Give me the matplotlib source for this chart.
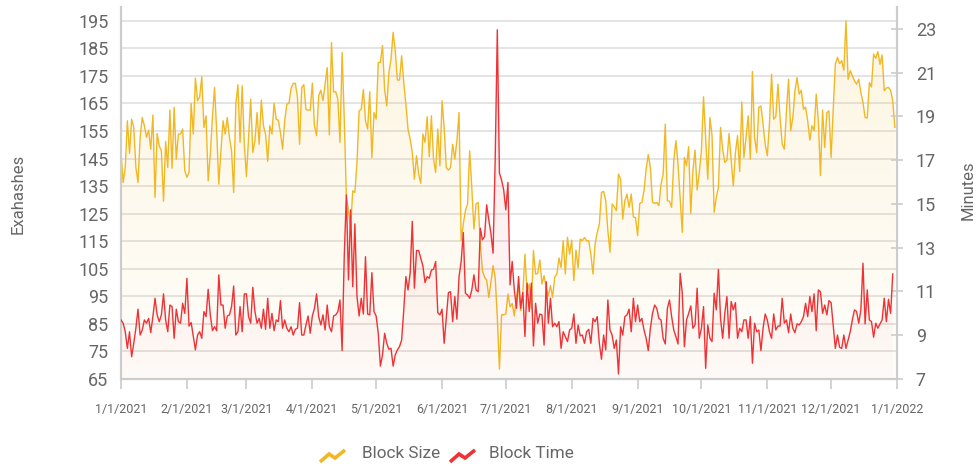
import numpy as np
import pandas as pd
import matplotlib
matplotlib.use("Agg")
import matplotlib.pyplot as plt
import matplotlib.dates as mdates
from matplotlib.colors import to_rgb
from matplotlib.patches import PathPatch
from matplotlib.lines import Line2D

plt.rcParams['font.family'] = ['Roboto', 'DejaVu Sans']

# daily hash rate (Exahashes), 1/1/2021 .. 12/31/2021
block_size = [
    # Jan 1 - Mar 16
    147.2, 136.3, 141.8, 158.7, 146.9, 159.3, 156.3, 141.8, 136.3, 152.7,
    159.9, 156.9, 152.7, 155.3, 148.4, 160.8, 130.9, 154.1, 149.6, 147.8,
    129.5, 151.2, 141.8, 162.6, 141.5, 163.6, 144.8, 153.9, 153.9, 155.7,
    140.6, 138.2, 140.0, 165.0, 153.9, 174.2, 166.0, 167.4, 174.7, 156.3,
    160.5, 136.9, 146.6, 159.9, 170.8, 155.1, 135.7, 147.8, 158.7, 153.9,
    159.9, 152.7, 147.8, 132.7, 164.8, 171.8, 150.9, 171.4, 150.2, 138.5,
    152.7, 166.6, 147.2, 151.5, 161.7, 150.2, 166.2, 156.9, 153.9, 144.0,
    156.9, 153.9, 165.1, 159.3, 158.9,
    # Mar 17 - May 30
    154.5, 148.4, 158.7, 164.8, 165.0, 170.6, 172.3, 172.3, 167.2, 150.2,
    170.8, 171.8, 162.8, 162.6, 162.6, 172.4, 156.9, 153.3, 167.9, 169.8,
    166.0, 172.0, 178.0, 153.6, 187.1, 169.2, 169.2, 166.6, 150.9, 183.5,
    159.9, 131.5, 126.1, 120.0, 133.3, 132.7, 143.6, 162.3, 162.9, 170.1,
    158.7, 155.7, 169.2, 145.4, 161.7, 159.3, 179.9, 179.9, 186.0, 170.1,
    164.1, 176.2, 181.1, 190.8, 184.1, 173.5, 173.5, 182.3, 172.6, 164.8,
    155.7, 152.1, 147.2, 137.5, 146.0, 139.4, 136.0, 153.9, 150.9, 160.2,
    145.7, 160.5, 144.8, 140.0, 155.7,
    # May 31 - Aug 13
    142.4, 166.0, 156.3, 141.8, 140.8, 141.8, 150.2, 144.8, 151.5, 161.7,
    115.2, 121.2, 126.1, 128.5, 147.8, 134.5, 119.4, 128.5, 129.1, 114.0,
    104.3, 101.9, 100.9, 94.6, 100.1, 106.1, 101.9, 87.4, 68.6, 88.3,
    88.3, 88.6, 95.8, 91.2, 92.4, 87.9, 94.6, 98.3, 89.8, 96.1,
    110.3, 96.5, 99.5, 90.4, 111.6, 103.1, 103.3, 108.2, 99.5, 102.5,
    98.0, 95.2, 98.9, 94.6, 101.9, 103.1, 108.9, 105.5, 115.2, 103.1,
    116.4, 110.3, 115.4, 100.7, 111.8, 105.3, 115.8, 115.2, 116.4, 115.2,
    115.2, 110.3, 103.1, 114.0, 118.2,
    # Aug 14 - Oct 27
    121.2, 132.7, 133.1, 129.7, 118.8, 111.0, 128.5, 127.5, 126.1, 139.4,
    137.5, 123.0, 129.7, 132.1, 127.3, 132.1, 123.8, 123.6, 117.0, 128.7,
    129.1, 133.3, 141.2, 146.4, 141.8, 129.1, 128.7, 129.1, 127.9, 135.7,
    139.4, 157.5, 129.7, 129.5, 127.3, 144.3, 151.5, 143.0, 130.9, 118.2,
    145.4, 142.4, 149.3, 125.1, 140.6, 148.1, 133.6, 139.9, 147.8, 167.4,
    152.7, 137.5, 159.9, 153.3, 125.5, 130.9, 134.5, 156.3, 148.4, 143.6,
    144.4, 154.1, 144.8, 135.1, 147.2, 153.3, 140.3, 165.5, 145.4, 152.7,
    160.5, 144.8, 176.6, 152.7, 147.2,
    # Oct 28 - Dec 31
    163.6, 164.1, 157.5, 150.2, 146.0, 157.5, 175.6, 159.3, 160.2, 172.0,
    159.9, 150.2, 148.4, 162.3, 173.8, 155.1, 159.9, 169.6, 174.4, 168.4,
    169.8, 162.9, 163.7, 158.7, 151.7, 156.9, 155.1, 168.4, 158.7, 138.8,
    162.6, 149.0, 161.7, 162.3, 145.4, 162.9, 179.3, 181.7, 179.5, 180.5,
    177.1, 195.0, 173.8, 176.9, 175.0, 173.2, 172.0, 173.8, 169.0, 165.4,
    159.9, 159.7, 172.6, 171.0, 182.9, 181.4, 183.8, 179.2, 182.6, 169.6,
    170.6, 170.8, 169.8, 166.0, 156.3,
]

# daily average block time (minutes), 1/1/2021 .. 12/30/2021
block_time = [
    9.70, 9.55, 9.16, 8.40, 9.16, 8.02, 8.63, 9.32, 10.19, 9.01,
    9.24, 9.70, 9.55, 9.77, 9.12, 9.85, 10.69, 9.93, 9.62, 9.93,
    10.89, 9.70, 9.16, 10.38, 10.31, 8.86, 10.19, 9.62, 9.55, 10.46,
    10.00, 11.60, 9.42, 9.58, 8.94, 8.33, 9.01, 9.16, 8.86, 10.08,
    9.85, 11.10, 9.93, 9.21, 9.39, 9.21, 11.76, 10.38, 10.38, 9.32,
    9.88, 9.93, 10.31, 11.25, 9.01, 9.16, 10.31, 9.16, 10.89, 10.89,
    9.85, 9.55, 11.19, 10.08, 9.55, 9.77, 9.32, 10.19, 9.27, 10.69,
    9.32, 10.00, 9.21, 9.70, 9.62,
    10.58, 9.32, 9.70, 9.32, 9.16, 9.39, 9.01, 9.27, 9.32, 10.49,
    9.01, 9.01, 9.47, 9.88, 9.09, 9.88, 10.23, 10.89, 9.85, 9.47,
    9.93, 9.24, 10.38, 9.39, 9.16, 9.88, 9.93, 10.08, 10.61, 8.30,
    12.59, 15.41, 11.53, 14.73, 11.22, 14.09, 10.77, 9.88, 10.69, 9.97,
    12.59, 9.97, 9.93, 11.86, 10.08, 9.88, 9.09, 7.59, 8.10, 9.09,
    8.63, 8.36, 8.40, 7.59, 8.10, 8.33, 8.48, 8.78, 10.16, 11.68,
    11.07, 11.83, 14.20, 11.15, 12.87, 12.87, 12.52, 12.17, 11.41, 11.68,
    11.60, 11.98, 12.01, 12.37, 10.03,
    9.93, 10.19, 8.63, 9.77, 10.95, 10.99, 9.62, 10.77, 9.73, 11.68,
    12.37, 13.69, 10.92, 10.84, 10.69, 11.07, 11.76, 11.07, 10.99, 13.89,
    13.36, 13.51, 14.96, 14.27, 13.66, 12.75, 17.02, 22.96, 16.41, 16.10,
    15.64, 14.73, 15.98, 11.30, 12.37, 11.07, 10.23, 11.68, 10.23, 10.95,
    8.94, 11.38, 10.08, 11.38, 8.51, 10.46, 9.55, 9.97, 9.93, 8.55,
    11.45, 9.55, 10.69, 9.39, 9.55, 9.39, 9.62, 8.40, 9.16, 8.94,
    8.71, 9.24, 9.32, 9.97, 8.63, 9.47, 8.97, 9.01, 8.63, 9.16,
    9.27, 8.63, 9.77, 9.62, 9.85,
    8.63, 7.90, 9.01, 8.33, 10.61, 9.24, 9.01, 8.40, 8.78, 7.23,
    9.39, 9.01, 9.85, 9.93, 10.19, 9.16, 10.69, 9.62, 10.38, 9.62,
    9.77, 9.24, 8.86, 8.30, 9.32, 10.00, 10.38, 10.23, 9.77, 9.70,
    8.86, 8.60, 10.23, 10.61, 9.85, 9.24, 8.94, 8.60, 11.83, 10.92,
    8.48, 9.70, 10.00, 10.34, 9.32, 9.47, 11.15, 8.86, 9.32, 10.31,
    7.49, 9.47, 8.86, 8.71, 10.92, 10.16, 12.01, 9.77, 8.86, 10.00,
    10.77, 8.86, 10.54, 10.16, 10.49, 8.86, 9.32, 9.16, 9.70, 9.70,
    8.86, 9.85, 7.72, 9.55, 9.16,
    9.24, 8.30, 9.32, 9.97, 9.70, 9.16, 8.86, 9.97, 9.24, 9.42,
    9.42, 10.69, 9.55, 9.70, 9.12, 9.97, 9.32, 9.12, 9.52, 9.47,
    9.62, 9.85, 10.46, 9.85, 10.77, 10.08, 10.89, 9.21, 11.07, 10.99,
    10.00, 10.38, 9.93, 10.58, 10.49, 9.47, 8.40, 9.01, 8.45, 8.40,
    9.01, 8.40, 8.78, 9.16, 9.70, 10.16, 10.08, 9.55, 10.16, 12.29,
    9.52, 11.07, 9.70, 9.62, 8.91, 9.55, 9.32, 9.52, 9.70, 10.69,
    9.62, 10.64, 10.00, 11.80,
]

left_ticks = list(range(65, 200, 10))
right_ticks = list(range(7, 24, 2))

YELLOW = '#F2B824'
RED = '#EF3236'
GRID = '#dddddd'
AXIS = '#cccccc'
TEXT = '#666666'

size_dates = pd.date_range('2021-01-01', periods=len(block_size), freq='D')
time_dates = pd.date_range('2021-01-01', periods=len(block_time), freq='D')


def gradient_fill(ax, dates, vals, color, a_top, a_bot, y0, y1):
    xs = mdates.date2num(dates)
    poly = ax.fill_between(xs, vals, y0, color='none', lw=0)
    path = poly.get_paths()[0]
    patch = PathPatch(path, transform=ax.transData, facecolor='none', edgecolor='none')
    ax.add_patch(patch)
    img = np.zeros((256, 1, 4))
    img[:, :, :3] = to_rgb(color)
    img[:, 0, 3] = np.linspace(a_top, a_bot, 256)
    im = ax.imshow(img, aspect='auto', origin='upper', interpolation='bilinear',
                   extent=[xs[0], xs[-1], y0, y1], zorder=1)
    im.set_clip_path(patch)


dpi = 100
fig = plt.figure(figsize=(976 / dpi, 466 / dpi), dpi=dpi)
ax = fig.add_axes([121 / 976, 1 - 379 / 466, (897 - 121) / 976, (379 - 7) / 466])
ax2 = ax.twinx()

gradient_fill(ax, size_dates, block_size, YELLOW, 0.14, 0.02, 65, 200)
ax.plot(size_dates, block_size, color=YELLOW, lw=1.0, zorder=3)

gradient_fill(ax2, time_dates, block_time, RED, 0.13, 0.02, 7, 24)
ax2.plot(time_dates, block_time, color=RED, lw=1.0, zorder=3)

ax.set_ylim(65, 200)
ax2.set_ylim(7, 24)
ax.set_xlim(pd.Timestamp('2021-01-01'), pd.Timestamp('2022-01-01'))

ax.set_yticks(left_ticks)
ax2.set_yticks(right_ticks)
ax.grid(axis='y', color=GRID, lw=1.1)
ax.set_axisbelow(True)

months = pd.date_range('2021-01-01', '2022-01-01', freq='MS')
ax.set_xticks(months)
ax.set_xticklabels([f"{d.month}/{d.day}/{d.year}" for d in months])

for a in (ax, ax2):
    a.spines['top'].set_visible(False)
    for s in ('left', 'right', 'bottom'):
        a.spines[s].set_color(AXIS)
        a.spines[s].set_linewidth(1.5)

ax.tick_params(axis='y', length=0, pad=9, labelsize=13, labelcolor=TEXT)
ax.tick_params(axis='x', length=7, width=1.2, color=AXIS, pad=10,
               labelsize=9, labelcolor=TEXT)
ax2.tick_params(axis='y', direction='inout', length=9, width=1.2, color=AXIS,
                pad=9, labelsize=13, labelcolor=TEXT)

fig.text(18 / 976, 1 - 194 / 466, 'Exahashes', rotation=90, ha='center',
         va='center', fontsize=12, color=TEXT)
fig.text(968 / 976, 1 - 190 / 466, 'Minutes', rotation=90, ha='center',
         va='center', fontsize=12, color=TEXT)

# legend with small zigzag icons
icon = np.array([[0, 12], [9, 4], [15, 8], [25, 0]], dtype=float)
for x0, tx, col, label in ((320, 362, YELLOW, 'Block Size'), (450, 489, RED, 'Block Time')):
    px = (x0 + icon[:, 0]) / 976
    py = 1 - (450 + icon[:, 1]) / 466
    fig.add_artist(Line2D(px, py, color=col, lw=2.6, solid_capstyle='butt',
                          solid_joinstyle='miter', transform=fig.transFigure))
    fig.text(tx / 976, 1 - 454 / 466, label, ha='left', va='center',
             fontsize=12.3, color=TEXT)

fig.savefig('out.png', dpi=dpi)
